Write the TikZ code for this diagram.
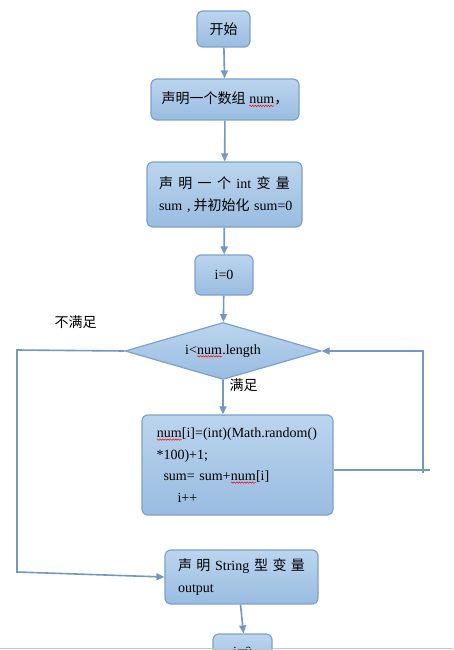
\documentclass[tikz,border=0pt]{standalone}
\usepackage{fontspec}
\setmainfont{Liberation Serif}
\newfontfamily\cjk{Noto Sans CJK SC}
\usetikzlibrary{shapes.geometric,arrows.meta,decorations.pathmorphing}
\newcommand\sq[1]{\tikz[baseline=(sqt.base)]{\node[shape=rectangle, inner sep=0pt, outer sep=0pt, minimum width=0pt, minimum height=0pt, text width={}, align=none] (sqt) {#1};
  \draw[red, line width=0.5pt, sharp corners, decorate, decoration={snake,amplitude=0.7pt,segment length=2.6pt}]
    ([yshift=-2pt]sqt.base west) -- ([yshift=-2pt]sqt.base east);}}
\newcommand\zh[1]{{\cjk #1}}
\definecolor{boxtop}{HTML}{BCD5EE}
\definecolor{boxbot}{HTML}{98BCE0}
\definecolor{edgec}{HTML}{7BA2CB}
\definecolor{linec}{HTML}{7199C4}
\tikzset{
  box/.style={rounded corners=6pt, draw=edgec, line width=1.2pt, top color=boxtop, bottom color=boxbot,
    font=\fontsize{14}{21.5}\selectfont, inner sep=0pt, text=black},
  dia/.style={diamond, draw=edgec, line width=1.2pt, top color=boxtop, bottom color=boxbot,
    font=\fontsize{14}{21.5}\selectfont, inner sep=0pt, aspect=3.44},
  conn/.style={draw=linec, line width=1.6pt},
  arr/.style={conn, -{Triangle[length=8pt,width=7pt]}},
  lbl/.style={font=\fontsize{14}{17}\selectfont, inner sep=0pt}
}
\begin{document}
\begin{tikzpicture}[x=1pt,y=-1pt]
\useasboundingbox (0,0) rectangle (453,650);
\clip (0,0) rectangle (453,650);
\fill[white] (0,0) rectangle (453,650);

\node[box, minimum width=53pt, minimum height=36pt] (start) at (223.5,29) {\zh{开始}};
\node[box, minimum width=148pt, minimum height=41pt] (b2) at (225,99.5) {\zh{声明一个数组} \sq{num}\zh{，}};
\node[box, minimum width=155pt, minimum height=65pt, align=left, text width=131pt] (b3) at (224.5,194.5)
  {\makebox[131pt]{\zh{声}\hfill\zh{明}\hfill\zh{一}\hfill\zh{个}\hfill int\hfill\zh{变}\hfill\zh{量}}\\
   \makebox[131pt][s]{sum ,\hspace{3pt}\zh{并初始化} sum=0}};
\node[box, minimum width=58pt, minimum height=40pt] (i0) at (224,275) {i=0};
\node[dia, minimum width=196pt, minimum height=57pt] (d) at (223,351) {i<\sq{num}.length};
\node[box, minimum width=191pt, minimum height=100pt, align=left, text width=162pt] (b5) at (237.5,465)
  {\sq{num}[i]=(int)(Math.random()\\{*}100)+1;\\\hspace*{7pt}sum= sum+\sq{num}[i]\\\hspace*{21pt}i++};
\node[box, minimum width=153pt, minimum height=54pt, align=left, text width=127pt] (b6) at (241.5,577)
  {\makebox[127pt]{\zh{声}\hfill\zh{明} String \zh{型}\hfill\zh{变}\hfill\zh{量}}\\output};
\node[box, minimum width=59pt, minimum height=36pt] (b7) at (242.5,652) {i=0};

\node[lbl] (no) at (75.5,322) {\zh{不满足}};
\node[lbl] (yes) at (243.5,385) {\zh{满足}};

\draw[arr] (start) -- (b2);
\draw[arr] (b2) -- (b3);
\draw[arr] (b3) -- (i0);
\draw[arr] (i0) -- (d);
\draw[arr] (d.south) -- (d.south |- b5.north);

\coordinate (l1) at (17,350);
\coordinate (l2) at (17,572);
\draw[arr] (d.west) -- (l1) -- (l2) -- (b6.west);

\coordinate (r1) at (430,470);
\coordinate (r2) at (423,473);
\coordinate (r3) at (423,351);
\draw[conn] (b5.east |- r1) -- (r1);
\draw[arr] (r2) -- (r3) -- (d.east);

\draw[arr] ([xshift=-1pt]b6.south) -- ([xshift=1pt]b7.north);

\draw[gray!45, line width=1pt] (0,648.5) -- (453,648.5);
\end{tikzpicture}
\end{document}
